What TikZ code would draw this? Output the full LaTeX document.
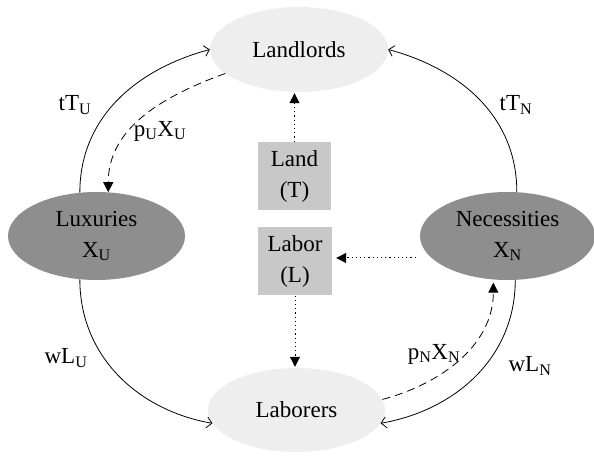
\documentclass[tikz,border=0pt]{standalone}
\usepackage{fontspec}
\setmainfont{Liberation Serif}
\usetikzlibrary{shapes.geometric,arrows.meta}
\definecolor{lightfill}{RGB}{238,238,238}
\definecolor{darkfill}{RGB}{142,142,142}
\definecolor{boxfill}{RGB}{200,200,200}
\begin{document}
\begin{tikzpicture}[x=1pt,y=1pt,
  every node/.style={font=\fontsize{23}{31}\selectfont},
  lightell/.style={ellipse, fill=lightfill, inner sep=0pt, align=center},
  darkell/.style={ellipse, fill=darkfill, inner sep=0pt, align=center},
  factor/.style={rectangle, fill=boxfill, inner sep=0pt, align=center, minimum width=73pt, minimum height=68pt},
  flow/.style={line width=0.8pt, -{Straight Barb[length=5pt,width=11pt]}},
  pay/.style={line width=0.8pt, dash pattern=on 8pt off 5pt, -{Triangle[length=10pt,width=10pt]}},
  serv/.style={line width=1pt, dash pattern=on 1.2pt off 3pt, -{Triangle[length=10pt,width=10pt]}},
  lbl/.style={inner sep=1pt}
]
\useasboundingbox (0,0) rectangle (594,455);

\node[lightell, minimum width=178pt, minimum height=85pt] (landlords) at (299,405.5) {Landlords};
\node[lightell, minimum width=177pt, minimum height=84pt] (laborers) at (296.5,45) {Laborers};
\node[darkell, minimum width=177pt, minimum height=88pt] (luxuries) at (96.5,219) {Luxuries\\X\textsubscript{U}};
\node[darkell, minimum width=175pt, minimum height=88pt] (necessities) at (507.5,219) {Necessities\\X\textsubscript{N}};
\node[factor] (land) at (294.5,279) {Land\\(T)};
\node[factor, minimum width=74pt] (labor) at (295,193.5) {Labor\\(L)};

% solid flows
\draw[flow] (luxuries.111) to[out=90,in=195] (landlords.west);
\draw[flow] (necessities.78) to[out=90,in=-15] (landlords.east);
\draw[flow] (luxuries.249) to[out=270,in=170] (laborers.189);
\draw[flow] (necessities.280) to[out=270,in=10] (laborers.351);

% payments (dashed)
\draw[pay] (landlords.198) to[out=200,in=90] (luxuries.75);
\draw[pay, shorten >=3pt] (laborers.7) to[out=15,in=270] (necessities.252);

% factor services (dotted)
\draw[serv, shorten >=1pt] (land.north) -- (land.north |- landlords.south);
\draw[serv, shorten >=1pt] (labor.south) -- (labor.south |- laborers.north);
\coordinate (lbx) at ([yshift=3.5pt]labor.east);
\draw[serv, shorten <=4pt, shorten >=4pt] (lbx -| necessities.west) -- (lbx);

% labels
\node[lbl] (ltu) at (75,350) {tT\textsubscript{U}};
\node[lbl] (lpu) at (160,324) {p\textsubscript{U}X\textsubscript{U}};
\node[lbl] (ltn) at (516,350) {tT\textsubscript{N}};
\node[lbl] (lwu) at (66,97) {wL\textsubscript{U}};
\node[lbl] (lpn) at (434,101) {p\textsubscript{N}X\textsubscript{N}};
\node[lbl] (lwn) at (530,89) {wL\textsubscript{N}};
\end{tikzpicture}
\end{document}
